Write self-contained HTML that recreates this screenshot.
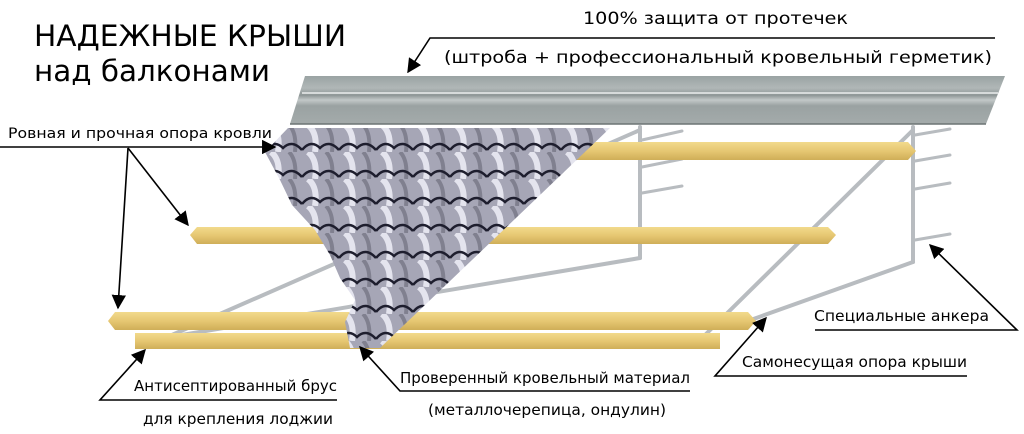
<!DOCTYPE html>
<html><head><meta charset="utf-8"><style>
html,body{margin:0;padding:0;background:#fff;}
svg{display:block;}
text{font-family:"Liberation Sans Narrow","DejaVu Sans Condensed","Liberation Sans",sans-serif;fill:#000;}
</style></head><body>
<svg width="1024" height="434" viewBox="0 0 1024 434" xmlns="http://www.w3.org/2000/svg">
<defs>
<linearGradient id="fl" x1="0" y1="0" x2="0" y2="1">
<stop offset="0" stop-color="#9aa3a3"/><stop offset="0.25" stop-color="#b0b7b7"/><stop offset="0.4" stop-color="#8e9696"/><stop offset="0.5" stop-color="#c2c8c8"/><stop offset="0.62" stop-color="#9aa2a2"/><stop offset="1" stop-color="#a4abab"/>
</linearGradient>
<linearGradient id="wood" x1="0" y1="0" x2="0" y2="1">
<stop offset="0" stop-color="#f2da8c"/><stop offset="0.5" stop-color="#e6c772"/><stop offset="1" stop-color="#cfae58"/>
</linearGradient>
<pattern id="tile" width="37" height="27" patternUnits="userSpaceOnUse" x="265" y="125">
<rect width="37" height="27" fill="#a6a6b6"/>
<path d="M6 0 Q16 8 13 27" stroke="#e4e4ee" stroke-width="6" fill="none"/>
<path d="M24 0 Q32 8 30 27" stroke="#80808f" stroke-width="4" fill="none"/>
<path d="M0 25 Q9 14 18 23 Q27 14 37 25" stroke="#1e1e2e" stroke-width="2.5" fill="none"/>
</pattern>
<marker id="ar" viewBox="0 0 10 10" refX="9" refY="5" markerWidth="9" markerHeight="9" orient="auto-start-reverse"><path d="M0 0 L10 5 L0 10 z" fill="#000"/></marker>
</defs>

<g stroke="#b8bcc0" stroke-width="4" fill="none" stroke-linecap="round">
<line x1="640" y1="127" x2="640" y2="258"/>
<line x1="913" y1="127" x2="913" y2="262"/>
<line x1="640" y1="130" x2="165" y2="338"/>
<line x1="640" y1="258" x2="140" y2="342"/>
<line x1="913" y1="130" x2="703" y2="337"/>
<line x1="913" y1="262" x2="745" y2="322"/>
<g stroke-width="3">
<line x1="642" y1="140" x2="682" y2="131"/><line x1="642" y1="167" x2="682" y2="159"/><line x1="642" y1="193" x2="682" y2="186"/>
<line x1="915" y1="135" x2="950" y2="129"/><line x1="915" y1="161" x2="950" y2="155"/><line x1="915" y1="189" x2="950" y2="183"/><line x1="915" y1="240" x2="950" y2="234"/>
</g>
</g>

<polygon points="305,76 1005,76 986,124 290,124" fill="url(#fl)"/>
<line x1="290" y1="124" x2="986" y2="124" stroke="#6c7474" stroke-width="1.5"/>
<line x1="302" y1="93" x2="998" y2="93" stroke="#d6dada" stroke-width="2"/>

<polygon points="281,142 908,142 916,151 908,160 281,160 275,151" fill="url(#wood)"/>
<polygon points="197,227 828,227 836,235 828,244 197,244 190,235" fill="url(#wood)"/>
<polygon points="115,312 748,312 756,321 748,330 115,330 108,321" fill="url(#wood)"/>
<polygon points="135,333 720,333 720,349 135,349" fill="url(#wood)"/>

<polygon points="288,128 610,128 380,348 350,348 345,322 355,300 340,278 330,255 315,230 292,205 280,180 265,152" fill="url(#tile)"/>

<text x="34" y="46" font-size="29" textLength="312" lengthAdjust="spacingAndGlyphs">НАДЕЖНЫЕ КРЫШИ</text>
<text x="34" y="81" font-size="29" textLength="236" lengthAdjust="spacingAndGlyphs">над балконами</text>
<text x="583" y="24" font-size="17" textLength="265" lengthAdjust="spacingAndGlyphs">100% защита от протечек</text>
<text x="444" y="63" font-size="17" textLength="548" lengthAdjust="spacingAndGlyphs">(штроба + профессиональный кровельный герметик)</text>
<text x="8" y="138" font-size="14" textLength="264" lengthAdjust="spacingAndGlyphs">Ровная и прочная опора кровли</text>
<text x="134" y="391" font-size="15" textLength="203" lengthAdjust="spacingAndGlyphs">Антисептированный брус</text>
<text x="143" y="424" font-size="15" textLength="190" lengthAdjust="spacingAndGlyphs">для крепления лоджии</text>
<text x="400" y="383" font-size="15" textLength="290" lengthAdjust="spacingAndGlyphs">Проверенный кровельный материал</text>
<text x="428" y="415" font-size="15" textLength="238" lengthAdjust="spacingAndGlyphs">(металлочерепица, ондулин)</text>
<text x="742" y="367" font-size="15" textLength="225" lengthAdjust="spacingAndGlyphs">Самонесущая опора крыши</text>
<text x="814" y="321" font-size="15" textLength="175" lengthAdjust="spacingAndGlyphs">Специальные анкера</text>

<g stroke="#000" stroke-width="1.6" fill="none">
<polyline points="995,38 430,38 408,72" marker-end="url(#ar)"/>
<polyline points="0,147 275,147" marker-end="url(#ar)"/>
<line x1="128" y1="148" x2="188" y2="225" marker-end="url(#ar)"/>
<line x1="128" y1="148" x2="118" y2="308" marker-end="url(#ar)"/>
<polyline points="337,400 100,400 145,350" marker-end="url(#ar)"/>
<polyline points="690,391 400,391 360,347" marker-end="url(#ar)"/>
<polyline points="967,376 715,376 766,318" marker-end="url(#ar)"/>
<polyline points="815,330 1017,330 930,245" marker-end="url(#ar)"/>
</g>
</svg>
</body></html>
